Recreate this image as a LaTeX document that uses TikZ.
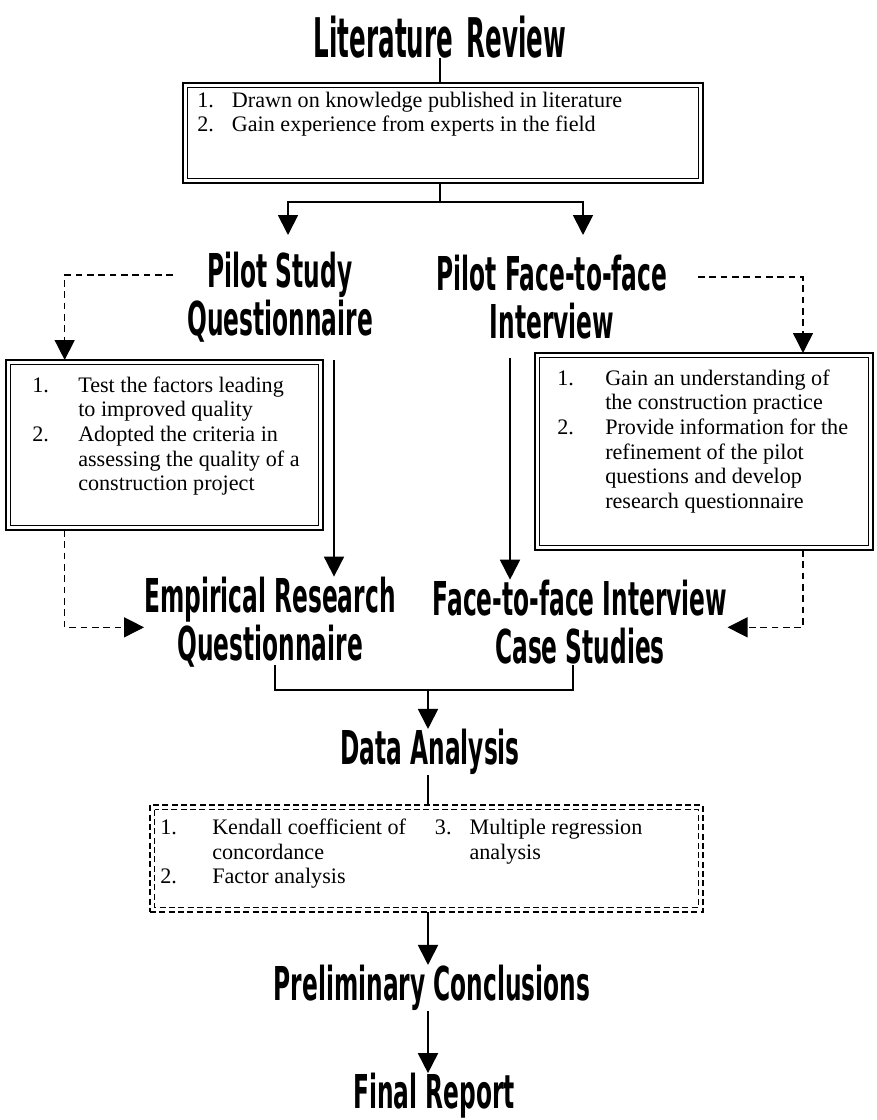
\documentclass[tikz,border=0pt]{standalone}
\usepackage{fontspec}
\setmainfont{Liberation Serif}
\newfontfamily\headfont{DejaVu Sans}[FakeStretch=0.5]
\newfontfamily\titlefont{DejaVu Sans}[FakeStretch=0.45]
\usepackage{tikz}
\usetikzlibrary{arrows.meta, positioning}

\begin{document}
\begin{tikzpicture}[
		x=0.75pt,
		y=-0.75pt,
		head/.style={font=\headfont\bfseries\fontsize{35}{36}\selectfont, align=center, inner sep=0pt},
		list/.style={font=\fontsize{16.6}{18.5}\selectfont, anchor=north west, inner sep=0pt},
		frame/.style={draw, line width=1.8pt, inner sep=0pt, outer sep=0pt},
		dframe/.style={draw, line width=1.5pt, dash pattern=on 4.5pt off 2.5pt, inner sep=0pt, outer sep=0pt},
		line/.style={line width=1.4pt},
		arr/.style={line width=1.4pt, -{Triangle[width=15pt,length=15pt]}},
		darr/.style={line width=1.1pt, dash pattern=on 5pt off 3.5pt, -{Triangle[width=15pt,length=15pt]}}
		]
		\useasboundingbox (0,0) rectangle (877,1120);
		
		% Headings
		\node[head, font=\titlefont\bfseries\fontsize{41}{42}\selectfont] (lit) at (440,37) {Literature\hspace{0.25em}Review};
		\node[head] (pilotq) at (280,297) {Pilot Study\\Questionnaire};
		\node[head] (pilotf) at (552,297) {Pilot Face-to-face\\Interview};
		\node[head] (empq) at (270,622) {Empirical Research\\Questionnaire};
		\node[head] (ftf) at (580,622) {Face-to-face Interview\\Case Studies};
		\node[head] (data) at (430,752) {Data Analysis};
		\node[head] (prelim) at (432,988) {Preliminary Conclusions};
		\node[head] (final) at (434,1096) {Final Report};
		
		% Boxes
		\node[frame, minimum width=390pt, minimum height=75pt] (revbox) at (443,133) {};
		\node[frame, minimum width=237.75pt, minimum height=127.5pt] (pilotbox) at (164.5,445) {};
		\node[frame, minimum width=253.5pt, minimum height=147.75pt] (intbox) at (704,451.5) {};
		\node[dframe, minimum width=414.75pt, minimum height=80.25pt] (databox) at (426.5,858.5) {};
		
		% Inner frames
		\foreach \b in {revbox, pilotbox, intbox}{
			\draw[line width=0.9pt] ([shift={(3.5pt,-3.5pt)}]\b.north west) rectangle ([shift={(-3.5pt,3.5pt)}]\b.south east);
		}
		\draw[line width=1pt, dash pattern=on 4.5pt off 2.5pt] ([shift={(3.5pt,-3.5pt)}]databox.north west) rectangle ([shift={(-3.5pt,3.5pt)}]databox.south east);
		
		% Lists
		\node[list] (revlist) at ([shift={(10.5pt,-5pt)}]revbox.north west) {\begin{tabular}{@{}p{26pt}@{}l@{}}
			1. & Drawn on knowledge published in literature\\
			2. & Gain experience from experts in the field
		\end{tabular}};
		\node[list] (pilotlist) at ([shift={(19.5pt,-11pt)}]pilotbox.north west) {\begin{tabular}{@{}p{34.5pt}@{}l@{}}
			1. & Test the factors leading\\
			& to improved quality\\
			2. & Adopted the criteria in\\
			& assessing the quality of a\\
			& construction project
		\end{tabular}};
		\node[list] (intlist) at ([shift={(16.5pt,-11pt)}]intbox.north west) {\begin{tabular}{@{}p{36pt}@{}l@{}}
			1. & Gain an understanding of\\
			& the construction practice\\
			2. & Provide information for the\\
			& refinement of the pilot\\
			& questions and develop\\
			& research questionnaire
		\end{tabular}};
		\node[list] (datalist) at ([shift={(7.5pt,-9pt)}]databox.north west) {\begin{tabular}{@{}p{39pt}@{}p{167pt}@{}p{26pt}@{}l@{}}
			1. & Kendall coefficient of & 3. & Multiple regression\\
			& concordance & & analysis\\
			2. & Factor analysis & &
		\end{tabular}};
		
		% Literature review fork
		\coordinate (fork) at (440,202);
		\coordinate (pqin) at (288,235);
		\coordinate (pfin) at (583,235);
		\draw[line] (lit.south) -- (lit.south |- revbox.north);
		\draw[line] (fork |- revbox.south) -- (fork);
		\draw[arr] (fork) -| (pqin);
		\draw[arr] (fork) -| (pfin);
		
		% Dashed feedback loops
		\coordinate (pqdash) at (173,275);
		\coordinate (pfdash) at (698,277);
		\draw[darr] (pqdash) -| ([xshift=44pt]pilotbox.north west);
		\draw[darr] (pfdash) -| ([xshift=-52.5pt]intbox.north east);
		\draw[darr] ([xshift=44pt]pilotbox.south west) |- ([yshift=-4pt]empq.west);
		\draw[darr] ([xshift=-52.5pt]intbox.south east) |- ([yshift=-4pt]ftf.east);
		
		% Pilot to main studies
		\coordinate (pqline) at (334,360);
		\coordinate (pfline) at (510,358);
		\draw[arr] (pqline) -- (pqline |- empq.north);
		\draw[arr] (pfline) -- (pfline |- ftf.north);
		
		% Merge into analysis
		\coordinate (qleg) at (275,665);
		\coordinate (cleg) at (573,665);
		\coordinate (merge) at (428,690);
		\draw[line] (qleg) |- (merge) -| (cleg);
		\draw[arr] (merge) -- (merge |- data.north);
		\draw[line] (merge |- data.south) -- (merge |- databox.north);
		\draw[arr] (merge |- databox.south) -- (merge |- prelim.north);
		\draw[arr] (merge |- prelim.south) -- (merge |- final.north);
		
	\end{tikzpicture}
\end{document}
